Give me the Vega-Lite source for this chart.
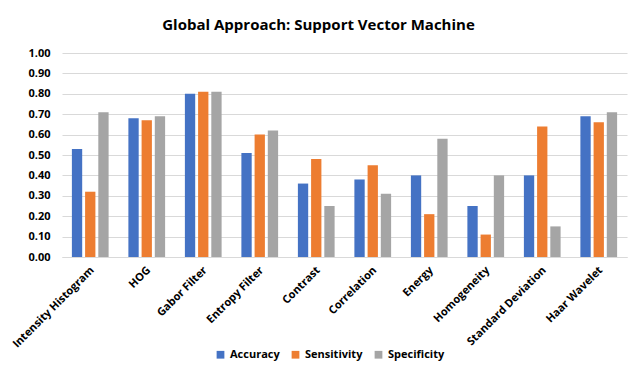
{
  "$schema": "https://vega.github.io/schema/vega-lite/v6.json",
  "width": 565,
  "height": 204,
  "autosize": {"type": "none"},
  "padding": {"left": 62, "top": 53, "right": 7, "bottom": 126},
  "background": "white",
  "title": {"text": "Global Approach: Support Vector Machine", "font": "Open Sans", "fontSize": 15, "fontWeight": "bold", "color": "#000000", "anchor": "middle", "dx": -26, "offset": 14},
  "config": {"view": {"stroke": null}, "font": "Open Sans"},
  "data": {"values": [
    {"feature": "Intensity Histogram", "metric": "Accuracy", "value": 0.53},
    {"feature": "Intensity Histogram", "metric": "Sensitivity", "value": 0.32},
    {"feature": "Intensity Histogram", "metric": "Specificity", "value": 0.71},
    {"feature": "HOG", "metric": "Accuracy", "value": 0.68},
    {"feature": "HOG", "metric": "Sensitivity", "value": 0.67},
    {"feature": "HOG", "metric": "Specificity", "value": 0.69},
    {"feature": "Gabor Filter", "metric": "Accuracy", "value": 0.80},
    {"feature": "Gabor Filter", "metric": "Sensitivity", "value": 0.81},
    {"feature": "Gabor Filter", "metric": "Specificity", "value": 0.81},
    {"feature": "Entropy Filter", "metric": "Accuracy", "value": 0.51},
    {"feature": "Entropy Filter", "metric": "Sensitivity", "value": 0.60},
    {"feature": "Entropy Filter", "metric": "Specificity", "value": 0.62},
    {"feature": "Contrast", "metric": "Accuracy", "value": 0.36},
    {"feature": "Contrast", "metric": "Sensitivity", "value": 0.48},
    {"feature": "Contrast", "metric": "Specificity", "value": 0.25},
    {"feature": "Correlation", "metric": "Accuracy", "value": 0.38},
    {"feature": "Correlation", "metric": "Sensitivity", "value": 0.45},
    {"feature": "Correlation", "metric": "Specificity", "value": 0.31},
    {"feature": "Energy", "metric": "Accuracy", "value": 0.40},
    {"feature": "Energy", "metric": "Sensitivity", "value": 0.21},
    {"feature": "Energy", "metric": "Specificity", "value": 0.58},
    {"feature": "Homogeneity", "metric": "Accuracy", "value": 0.25},
    {"feature": "Homogeneity", "metric": "Sensitivity", "value": 0.11},
    {"feature": "Homogeneity", "metric": "Specificity", "value": 0.40},
    {"feature": "Standard Deviation", "metric": "Accuracy", "value": 0.40},
    {"feature": "Standard Deviation", "metric": "Sensitivity", "value": 0.64},
    {"feature": "Standard Deviation", "metric": "Specificity", "value": 0.15},
    {"feature": "Haar Wavelet", "metric": "Accuracy", "value": 0.69},
    {"feature": "Haar Wavelet", "metric": "Sensitivity", "value": 0.66},
    {"feature": "Haar Wavelet", "metric": "Specificity", "value": 0.71}
  ]},
  "mark": {"type": "bar"},
  "encoding": {
    "x": {"field": "feature", "type": "nominal", "sort": null, "title": null,
      "scale": {"paddingInner": 0.35, "paddingOuter": 0.175},
      "axis": {"labelAngle": -45, "labelAlign": "right", "labelBaseline": "top", "labelFontWeight": "bold", "labelFontSize": 11, "labelColor": "#000000", "ticks": false, "domainColor": "#d9d9d9", "labelPadding": 7, "labelOffset": -2}},
    "xOffset": {"field": "metric", "type": "nominal", "scale": {"paddingInner": 0.22}},
    "y": {"field": "value", "type": "quantitative", "title": null,
      "scale": {"domain": [0, 1]},
      "axis": {"values": [0, 0.1, 0.2, 0.3, 0.4, 0.5, 0.6, 0.7, 0.8, 0.9, 1.0], "format": ".2f", "labelFontWeight": "bold", "labelFontSize": 11, "labelColor": "#000000", "ticks": false, "domain": false, "gridColor": "#d9d9d9", "labelPadding": 12}},
    "color": {"field": "metric", "type": "nominal", "title": null,
      "scale": {"domain": ["Accuracy", "Sensitivity", "Specificity"], "range": ["#4472C4", "#ED7D31", "#A5A5A5"]},
      "legend": {"orient": "none", "legendX": 153, "legendY": 296, "direction": "horizontal", "symbolType": "square", "symbolSize": 60, "labelFontWeight": "bold", "labelFontSize": 11, "labelColor": "#000000", "columnPadding": 10}}
  }
}
